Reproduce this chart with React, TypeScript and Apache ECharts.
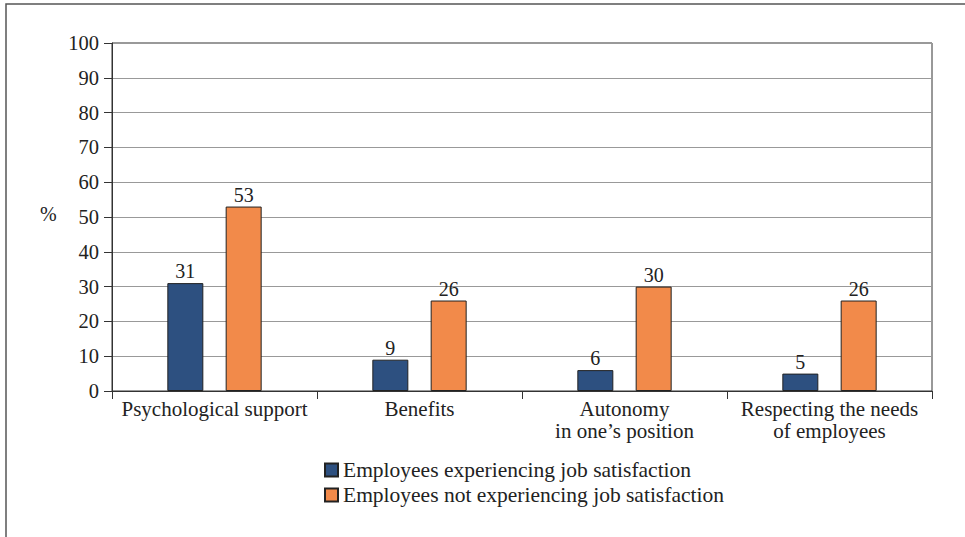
import React, { useEffect, useRef } from "react";
import * as echarts from "echarts";

const categories = [
  "Psychological support",
  "Benefits",
  "Autonomy\nin one\u2019s position",
  "Respecting the needs\nof employees",
];
const satisfied = [31, 9, 6, 5];
const notSatisfied = [53, 26, 30, 26];
const seriesNames = [
  "Employees experiencing job satisfaction",
  "Employees not experiencing job satisfaction",
];

const FONT = "'Liberation Serif', 'DejaVu Serif', serif";

export default function App() {
  const ref = useRef<HTMLDivElement>(null);
  useEffect(() => {
    if (!ref.current) return;
    const chart = echarts.init(ref.current, null, { renderer: "svg" });
    const labelCfg = {
      show: true,
      position: "top",
      distance: 2,
      fontFamily: FONT,
      fontSize: 20,
      color: "#222",
    };
    chart.setOption({
      animation: false,
      textStyle: { fontFamily: FONT },
      grid: { left: 112, top: 43, right: 33, bottom: 146, show: true, borderColor: "#333", borderWidth: 1 },
      graphic: [
        {
          type: "rect",
          shape: { x: 6, y: 4, width: 1000, height: 600 },
          style: { fill: "none", stroke: "#555", lineWidth: 1.5 },
          silent: true,
        },
        {
          type: "text",
          left: 40,
          top: 204,
          style: { text: "%", font: `20px ${FONT}`, fill: "#222" },
        },
      ],
      legend: {
        orient: "vertical",
        left: 319,
        top: 454,
        itemWidth: 13,
        itemHeight: 13,
        itemGap: 3,
        icon: "rect",
        textStyle: { fontFamily: FONT, fontSize: 21.5, color: "#222" },
        data: seriesNames,
      },
      xAxis: {
        type: "category",
        data: categories,
        axisLine: { lineStyle: { color: "#333", width: 1 } },
        axisTick: { show: true, length: 8, lineStyle: { color: "#333" } },
        axisLabel: { interval: 0, fontFamily: FONT, fontSize: 21, color: "#222", margin: 7, lineHeight: 22 },
      },
      yAxis: {
        type: "value",
        min: 0,
        max: 100,
        interval: 10,
        axisLine: { show: true, lineStyle: { color: "#333", width: 1 } },
        axisTick: { show: true, length: 8, lineStyle: { color: "#333" } },
        axisLabel: { fontFamily: FONT, fontSize: 20.5, color: "#222", margin: 13 },
        splitLine: { lineStyle: { color: "#999", width: 1 } },
      },
      series: [
        {
          name: seriesNames[0],
          type: "bar",
          data: satisfied,
          barWidth: 36,
          barGap: "62%",
          itemStyle: { color: "#2D5080", borderColor: "#222", borderWidth: 1 },
          label: labelCfg,
        },
        {
          name: seriesNames[1],
          type: "bar",
          data: notSatisfied,
          barWidth: 36,
          barGap: "62%",
          itemStyle: { color: "#F28A4A", borderColor: "#222", borderWidth: 1 },
          label: labelCfg,
        },
      ],
    });
    return () => chart.dispose();
  }, []);
  return (
    <div
      ref={ref}
      style={{ position: "fixed", left: 0, top: 0, width: 965, height: 537, background: "#fff" }}
    />
  );
}
